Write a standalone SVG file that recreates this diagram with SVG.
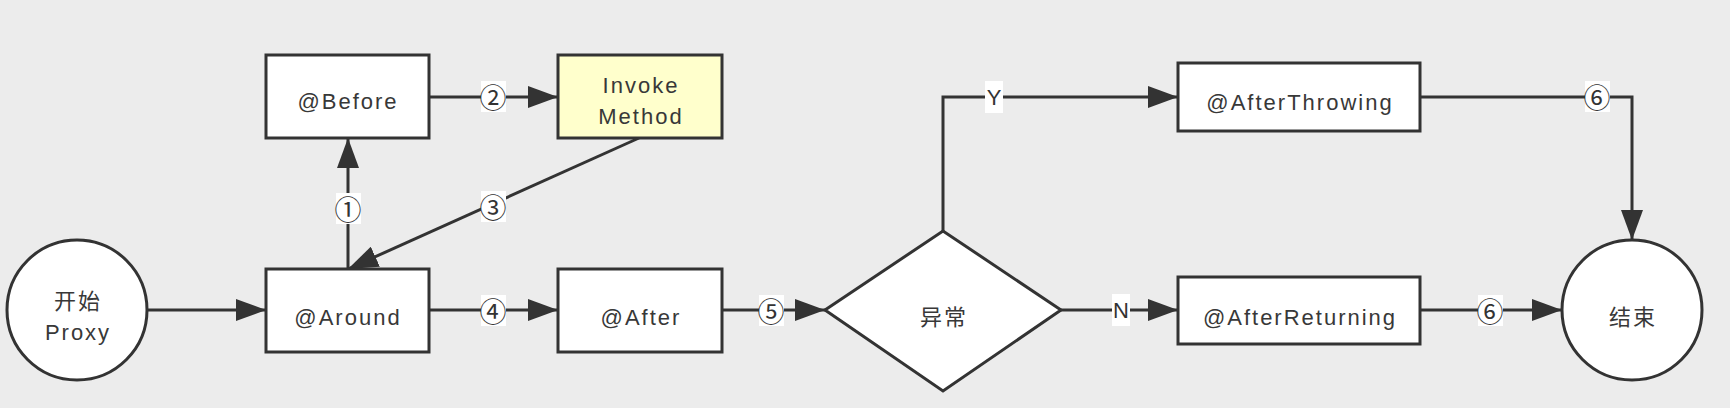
<svg xmlns="http://www.w3.org/2000/svg" width="1730" height="408" viewBox="0 0 1730 408">
<style>
.bg{fill:#ececec}
.node{fill:#ffffff;stroke:#333333;stroke-width:3}
.invoke{fill:#ffffcc;stroke:#333333;stroke-width:3}
.t{font-family:"Liberation Sans","Noto Sans CJK SC",sans-serif;font-size:22px;fill:#383838;text-anchor:middle;letter-spacing:2px}
.c{font-family:"Noto Sans CJK SC",sans-serif;font-size:27px;fill:#333333;text-anchor:middle;dominant-baseline:central}
.yn{font-family:"Liberation Sans",sans-serif;font-size:22px;fill:#333333;text-anchor:middle}
.edge{fill:none;stroke:#333333;stroke-width:3}
.lbg{fill:#ffffff}
</style>
<defs>
<marker id="arr" markerUnits="userSpaceOnUse" markerWidth="30" markerHeight="22" refX="30" refY="11" orient="auto">
<path d="M0,0 L30,11 L0,22 Z" fill="#333333"/>
</marker>
</defs>
<rect class="bg" x="0" y="0" width="1730" height="408"/>
<g id="connectors">
<line class="edge" x1="148" y1="310" x2="266" y2="310" marker-end="url(#arr)"/>
<line class="edge" x1="348" y1="269" x2="348" y2="138" marker-end="url(#arr)"/>
<line class="edge" x1="429" y1="97" x2="558" y2="97" marker-end="url(#arr)"/>
<line class="edge" x1="639" y1="138" x2="348" y2="269" marker-end="url(#arr)"/>
<line class="edge" x1="429" y1="310" x2="558" y2="310" marker-end="url(#arr)"/>
<line class="edge" x1="722" y1="310" x2="825" y2="310" marker-end="url(#arr)"/>
<polyline class="edge" points="943,232 943,97 1178,97" marker-end="url(#arr)"/>
<line class="edge" x1="1061" y1="310" x2="1178" y2="310" marker-end="url(#arr)"/>
<polyline class="edge" points="1420,97 1632,97 1632,240" marker-end="url(#arr)"/>
<line class="edge" x1="1420" y1="310" x2="1562" y2="310" marker-end="url(#arr)"/>
<rect class="lbg" x="336" y="193" width="25" height="31"/>
<text class="c" x="348" y="208">①</text>
<rect class="lbg" x="481" y="81" width="25" height="31"/>
<text class="c" x="493" y="96">②</text>
<rect class="lbg" x="481" y="191" width="25" height="31"/>
<text class="c" x="493" y="206">③</text>
<rect class="lbg" x="481" y="295" width="25" height="31"/>
<text class="c" x="493" y="310">④</text>
<rect class="lbg" x="759" y="295" width="25" height="31"/>
<text class="c" x="771" y="310">⑤</text>
<rect class="lbg" x="985" y="81" width="18" height="32"/>
<text class="yn" x="994" y="105">Y</text>
<rect class="lbg" x="1112" y="294" width="18" height="32"/>
<text class="yn" x="1121" y="318">N</text>
<rect class="lbg" x="1585" y="81" width="25" height="31"/>
<text class="c" x="1597" y="96">⑥</text>
<rect class="lbg" x="1478" y="295" width="25" height="31"/>
<text class="c" x="1490" y="310">⑥</text>
</g>
<g id="start">
<circle class="node" cx="77" cy="310" r="70"/>
<text class="t" x="78" y="309">开始</text>
<text class="t" x="78" y="340">Proxy</text>
</g>
<g id="before">
<rect class="node" x="266" y="55" width="163" height="83"/>
<text class="t" x="348" y="109">@Before</text>
</g>
<g id="invoke">
<rect class="invoke" x="558" y="55" width="164" height="83"/>
<text class="t" x="641" y="93">Invoke</text>
<text class="t" x="641" y="124">Method</text>
</g>
<g id="around">
<rect class="node" x="266" y="269" width="163" height="83"/>
<text class="t" x="348" y="325">@Around</text>
</g>
<g id="after">
<rect class="node" x="558" y="269" width="164" height="83"/>
<text class="t" x="641" y="325">@After</text>
</g>
<g id="exception">
<polygon class="node" points="825,310 943,231 1061,310 943,391"/>
<text class="t" x="944" y="325">异常</text>
</g>
<g id="afterThrowing">
<rect class="node" x="1178" y="63" width="242" height="68"/>
<text class="t" x="1300" y="110">@AfterThrowing</text>
</g>
<g id="afterReturning">
<rect class="node" x="1178" y="277" width="242" height="67"/>
<text class="t" x="1300" y="325">@AfterReturning</text>
</g>
<g id="end">
<circle class="node" cx="1632" cy="310" r="70"/>
<text class="t" x="1633" y="325">结束</text>
</g>
</svg>
